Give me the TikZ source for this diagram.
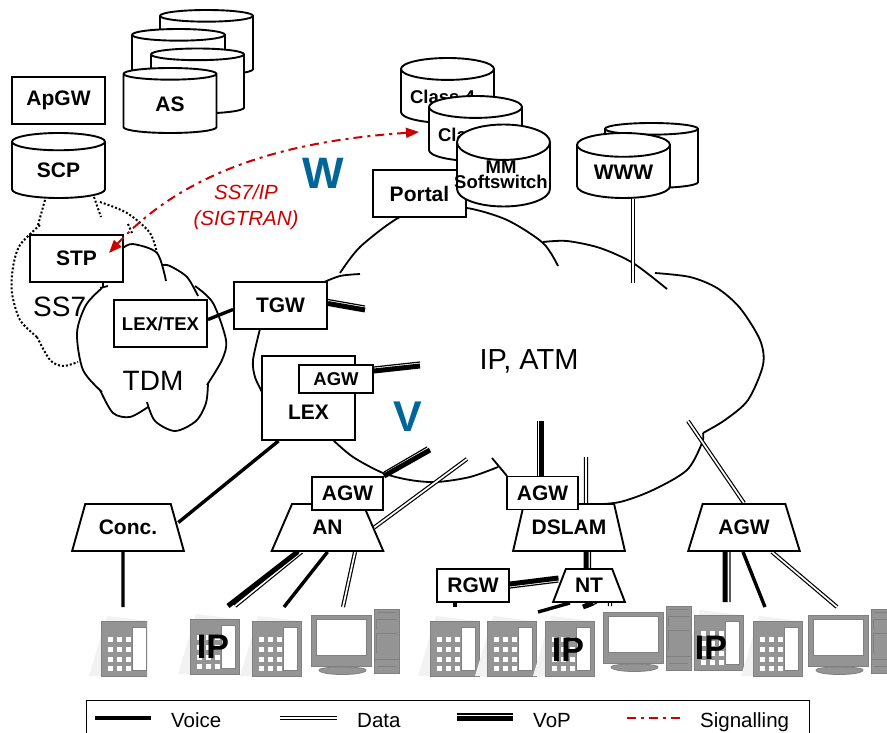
\documentclass[tikz,border=0pt]{standalone}
\usepackage{fontspec}
\setmainfont{Liberation Sans}
\usetikzlibrary{shapes.geometric,arrows.meta,backgrounds}
\definecolor{sigred}{RGB}{204,0,0}
\definecolor{letterblue}{RGB}{0,102,153}
\definecolor{icongray}{gray}{0.58}
\definecolor{iconedge}{gray}{0.5}
\tikzset{
  boxtext/.style={font=\bfseries\fontsize{21}{17}\selectfont},
  smalltext/.style={font=\bfseries\fontsize{18.5}{15}\selectfont},
  box/.style={draw, fill=white, line width=1.9pt, boxtext, inner sep=0pt,
    minimum width=93pt, minimum height=47pt},
  db/.style={cylinder, shape border rotate=90, shape aspect=.4, anchor=shape center,
    draw, fill=white, line width=1.9pt, boxtext, inner sep=0pt, minimum width=93pt,
    minimum height=65pt, align=center},
  trap/.style={trapezium, trapezium stretches=true, trapezium left angle=59,
    trapezium right angle=59, draw, fill=white, line width=1.9pt, boxtext,
    inner sep=0pt, minimum width=112pt, minimum height=47pt},
  cloudline/.style={line width=1.8pt},
  dotline/.style={line width=2pt, dotted},
  voice/.style={line width=3.4pt},
  data/.style={line width=1.2pt, double=white, double distance=1.7pt},
  vop/.style={line width=5pt},
  vopthin/.style={line width=1.2pt},
  signal/.style={color=sigred, line width=2pt, dash pattern=on 9pt off 5pt on 3pt off 5pt},
  keytext/.style={anchor=west, inner sep=0pt, font=\fontsize{20.5}{24}\selectfont, text height=18pt, text depth=0pt},
  phone/.pic={
    \fill[gray!10] (-12,55) -- (6,-5) -- (48,0) -- (48,55) -- cycle;
    \draw[fill=icongray, draw=iconedge, line width=.8pt] (0,0) rectangle (49,55);
    \draw[fill=white, draw=iconedge, line width=.8pt] (31,6) rectangle (45,49);
    \foreach \kx in {7,16,25}
      \foreach \ky in {16,26,36,45}
        \fill[white] (\kx,\ky) rectangle ++(5,5);
  },
  pc/.pic={
    \fill[icongray, draw=iconedge, line width=.8pt] (8,55) .. controls (8,51) and (55,51) .. (55,55)
      .. controls (55,61) and (8,61) .. (8,55) -- cycle;
    \draw[fill=icongray, draw=iconedge, line width=.8pt] (0,0) rectangle (60,51);
    \draw[fill=white, draw=iconedge, line width=.8pt] (5,4) rectangle (55,40);
    \draw[fill=icongray, draw=iconedge, line width=.8pt] (63,-6) rectangle (88,58);
    \draw[iconedge, line width=.8pt] (66,-3) -- (85,-3) (65,4) -- (86,4) (65,4) -- (65,14)
      (65,18) -- (86,18) (65,18) -- (65,38) (63,44) -- (88,44) (66,51) -- (85,51);
  },
}
\begin{document}
\begin{tikzpicture}[x=1pt, y=-1pt]
  \useasboundingbox (0,0) rectangle (887,733);

  % databases at the top
  \node[db] (asd) at (206.5,42.5) {\phantom{AS}};
  \node[db] (asc) at (178.5,61.5) {\phantom{AS}};
  \node[db] (asb) at (197.5,81) {\phantom{AS}};
  \node[db] (asa) at (170,100.5) {AS};
  \node[box] (apgw) at (58.5,100.5) {ApGW};
  \node[db] (scp) at (58.5,165.5) {SCP};
  \node[db, smalltext] (classfour) at (447.5,90.5) {\kern-10pt Class 4};
  \node[db, smalltext] (classfive) at (475.5,128.5) {\kern-10pt Class 5};
  \node[box] (portal) at (419.5,193.5) {Portal};
  \node[db, smalltext] (softsw) at (503.5,165.5) {\kern-5pt MM\\[0pt]\kern-5pt Softswitch};
  \node[db] (wwwb) at (651.5,155.5) {\phantom{AS}};
  \node[db] (www) at (623.5,165.5) {WWW};

  % boxes on the networks
  \node[box] (stp) at (76.5,258.5) {STP};
  \node[box, smalltext] (lextex) at (160.5,323.5) {LEX/TEX};
  \node[box] (tgw) at (280.5,305.5) {TGW};
  \node[box, minimum height=84pt] (lex) at (308.5,398) {\raisebox{-21.5pt}[0pt][0pt]{LEX}};
  \node[box, smalltext, minimum width=74pt, minimum height=28pt] (lexagw) at (336,379) {AGW};

  % access nodes
  \node[trap] (conc) at (128,527.5) {Conc.};
  \node[trap] (an) at (327.5,527.5) {AN};
  \node[trap] (dslam) at (569,527.5) {DSLAM};
  \node[trap] (agwr) at (744,527.5) {AGW};
  \node[trap, minimum width=72pt, minimum height=33pt, trapezium left angle=62,
    trapezium right angle=62] (nt) at (589,585.5) {NT};
  \node[box, minimum width=71pt, minimum height=33pt] (anagw) at (347.5,493.5) {AGW};
  \node[box, minimum width=71pt, minimum height=33pt] (dslamagw) at (542.5,493) {AGW};
  \node[box, minimum width=72pt, minimum height=33pt] (rgw) at (473,585.5) {RGW};

  % terminals
  \begin{scope}
    \clip (80,600) rectangle (147,690);
    \pic at (101,621) {phone};
  \end{scope}
  \foreach \px/\py in {190/619, 252/621, 430/621, 487/621, 545/621, 694/615, 753/621}
    \pic at (\px,\py) {phone};
  \foreach \px/\py in {311/615, 603/612, 808/615}
    \pic at (\px,\py) {pc};
  \node[boxtext, font=\bfseries\fontsize{34}{34}\selectfont] (ipa) at (213,647) {IP};
  \node[boxtext, font=\bfseries\fontsize{34}{34}\selectfont] (ipb) at (568,650) {IP};
  \node[boxtext, font=\bfseries\fontsize{34}{34}\selectfont] (ipc) at (711,648) {IP};

  % free ends
  \coordinate (tgwend) at (365,310);
  \coordinate (tgwthin) at (365,306);
  \coordinate (lexagwend) at (420,366);
  \coordinate (lexagwthin) at (420,362);
  \coordinate (anagwend) at (430,450);
  \coordinate (anagwthin) at (427,447);
  \coordinate (andata) at (467,459);
  \coordinate (dslamend) at (541,421);
  \coordinate (dslamthin) at (537.5,421);
  \coordinate (dslamdata) at (586,457);
  \coordinate (agwrdata) at (688,421);
  \coordinate (wwwend) at (633,283);
  \coordinate (concphone) at (123,607);
  \coordinate (anip) at (228,606);
  \coordinate (anipdata) at (235,606);
  \coordinate (anphone) at (284,607);
  \coordinate (anpc) at (343,607);
  \coordinate (rgwphone) at (455,607);
  \coordinate (ntphone) at (538,612);
  \coordinate (ntip) at (583,607);
  \coordinate (ntipthin) at (588,607);
  \coordinate (ntpc) at (610,606);
  \coordinate (agwrip) at (725,602);
  \coordinate (agwripthin) at (730,602);
  \coordinate (agwrphone) at (765,607);
  \coordinate (agwrpc) at (837,607);
  \coordinate (sigstp) at (109,253);
  \coordinate (sigclass) at (419,132);

  \begin{scope}[on background layer]
    % IP cloud
    \draw[cloudline] plot[smooth] coordinates {(322,283) (340,276) (360,274)};
    \draw[cloudline] plot[smooth] coordinates {(340,273) (360,247) (398,218) (430,208) (467,208) (507,220) (543,243) (558,266)};
    \draw[cloudline] plot[smooth] coordinates {(543,242) (567,241) (600,248) (633,263) (667,289)};
    \draw[cloudline] plot[smooth] coordinates {(655,273) (690,277) (717,288) (740,308) (760,340) (763,365) (748,400) (725,420) (703,433)};
    \draw[cloudline] plot[smooth] coordinates {(703,433) (702,443) (687,470) (653,490) (620,502) (588,505)};
    \draw[cloudline] (492,458) -- (507,476);
    \draw[cloudline] plot[smooth] coordinates {(498,467) (470,477) (437,482) (410,480) (383,473) (353,457) (333,440)};
    \draw[cloudline] plot[smooth] coordinates {(260,329) (253,360) (255,377) (262,392)};

    % SS7 cloud
    \draw[dotline] plot[smooth] coordinates {(45,200) (38,225)};
    \draw[dotline] plot[smooth] coordinates {(40,225) (20,245) (13,267) (12,293) (20,320) (37,337)};
    \draw[dotline] plot[smooth] coordinates {(37,337) (50,360) (63,366) (78,362)};
    \draw[dotline] plot[smooth] coordinates {(94,197) (101,217)};
    \draw[dotline] plot[smooth] coordinates {(100,202) (127,213) (150,233) (158,257)};
    \draw[dotline] (128,224) -- (132,233);
    \node[font=\fontsize{28}{28}\selectfont, anchor=west, inner sep=0pt] (ssseven) at (33,307) {SS7};

    % TDM cloud
    \fill[white] plot[smooth cycle] coordinates {(100,288) (77,333) (83,370) (102,392) (113,415) (130,417) (148,407) (175,431) (203,410) (208,383) (222,360) (226,340) (213,303) (195,286) (170,266) (157,253) (133,244) (110,265)};
    \draw[cloudline] (103,282) -- (103,287) (108,286) -- (100,288);
    \draw[cloudline] plot[smooth] coordinates {(102,288) (86,305) (77,333) (83,370) (102,392)};
    \draw[cloudline] plot[smooth] coordinates {(100,390) (113,413) (130,417) (148,407)};
    \draw[cloudline] plot[smooth] coordinates {(147,402) (155,421) (175,431) (196,421) (206,403) (208,383)};
    \draw[cloudline] plot[smooth] coordinates {(207,385) (222,360) (226,340) (213,303) (195,286)};
    \draw[cloudline] plot[smooth] coordinates {(163,265) (170,266) (187,277) (198,296)};
    \draw[cloudline] plot[smooth] coordinates {(123,248) (133,244) (157,253) (166,281)};
    \node[font=\fontsize{28}{28}\selectfont] (tdm) at (153,381) {TDM};

    % voice lines
    \draw[voice] ([yshift=4pt]lextex.east) -- ([yshift=-4pt]tgw.west);
    \draw[voice] ([xshift=-30pt]lex.south) -- ([yshift=5pt]conc.east);
    \draw[voice] ([xshift=-5pt]conc.south) -- (concphone);
    \draw[voice] (an.south) -- (anphone);
    \draw[voice] ([xshift=-18pt]rgw.south) -- (rgwphone);
    \draw[voice] ([xshift=-19pt]nt.south) -- (ntphone);
    \draw[voice] ([xshift=-1pt]agwr.south) -- (agwrphone);

    % data lines
    \draw[data] (an.east) -- (andata);
    \draw[data] ([xshift=17pt]dslam.north) -- (dslamdata);
    \draw[data] (agwr.north) -- (agwrdata);
    \draw[data] ([xshift=9.5pt]www.south) -- (wwwend);
    \draw[data] ([xshift=-26pt]an.south) -- (anipdata);
    \draw[data] ([xshift=27.5pt]an.south) -- (anpc);
    \draw[data] ([xshift=21pt]nt.south) -- (ntpc);
    \draw[data] ([xshift=28pt]agwr.south) -- (agwrpc);

    % VoP lines
    \draw[vop] ([yshift=2pt]tgw.east) -- (tgwend);
    \draw[vopthin] ([yshift=6pt]tgw.east) -- (tgwthin);
    \draw[vop] ([yshift=8pt]lexagw.east) -- (lexagwend);
    \draw[vopthin] ([yshift=12pt]lexagw.east) -- (lexagwthin);
    \draw[vop] (anagw.north east) -- (anagwend);
    \draw[vopthin] ([yshift=4pt]anagw.north east) -- (anagwthin);
    \draw[vop] ([xshift=-1.5pt]dslamagw.north) -- (dslamend);
    \draw[vopthin] ([xshift=-5pt]dslamagw.north) -- (dslamthin);
    \draw[vop] ([xshift=-30pt]an.south) -- (anip);
    \draw[vop] ([xshift=17pt]dslam.south) -- ([xshift=-3pt]nt.north);
    \draw[vopthin] ([xshift=21.5pt]dslam.south) -- ([xshift=1.5pt]nt.north);
    \draw[vop] ([yshift=1.5pt]rgw.east) -- ([yshift=7.5pt]nt.west);
    \draw[vopthin] ([yshift=-2.5pt]rgw.east) -- ([yshift=3.5pt]nt.west);
    \draw[vop] ([xshift=4pt]nt.south) -- (ntip);
    \draw[vopthin] ([xshift=8pt]nt.south) -- (ntipthin);
    \draw[vop] ([xshift=-19pt]agwr.south) -- (agwrip);
    \draw[vopthin] ([xshift=-14pt]agwr.south) -- (agwripthin);
  \end{scope}

  % signalling
  \draw[signal, {Triangle[length=13pt, width=10pt]}-{Triangle[length=13pt, width=10pt]}]
    (sigstp) .. controls (190,165) and (300,140) .. (sigclass);
  \node[font=\itshape\fontsize{20.5}{26}\selectfont, color=sigred, align=center] (sigtran) at (246,207) {SS7/IP\\(SIGTRAN)};
  \node[font=\bfseries\fontsize{44}{44}\selectfont, color=letterblue] (wletter) at (323,173) {W};
  \node[font=\bfseries\fontsize{43}{43}\selectfont, color=letterblue] (vletter) at (408,417) {V};
  \node[font=\fontsize{29}{29}\selectfont] (ipatm) at (529,361) {IP, ATM};

  % legend
  \node[draw, line width=1pt, minimum width=723pt, minimum height=50pt, inner sep=0pt] (legend) at (447.5,725) {};
  \node[keytext] (keyvoice) at (171,718) {Voice};
  \node[keytext] (keydata) at (357,718) {Data};
  \node[keytext] (keyvop) at (533,718) {VoP};
  \node[keytext] (keysignal) at (700,718) {Signalling};
  \draw[voice] ([xshift=-20pt]keyvoice.west) -- ([xshift=-76pt]keyvoice.west);
  \draw[data] ([xshift=-20pt]keydata.west) -- ([xshift=-77pt]keydata.west);
  \draw[vop] ([xshift=-20pt]keyvop.west) -- ([xshift=-76pt]keyvop.west);
  \draw[vopthin] ([xshift=-20pt, yshift=4pt]keyvop.west) -- ([xshift=-76pt, yshift=4pt]keyvop.west);
  \draw[signal] ([xshift=-20pt]keysignal.west) -- ([xshift=-77pt]keysignal.west);
\end{tikzpicture}
\end{document}
